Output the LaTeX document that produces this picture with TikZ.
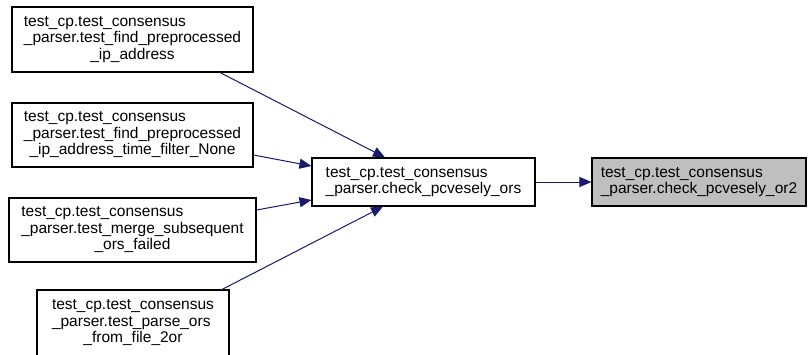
\documentclass[tikz,border=0pt]{standalone}
\usepackage{fontspec}
\setmainfont{Liberation Sans}
\usetikzlibrary{arrows.meta,calc}
\definecolor{edgeblue}{HTML}{191970}
\definecolor{hlgray}{HTML}{BFBFBF}
\newcommand{\lbl}[3]{\begin{tabular}{@{}l@{}}#1\\#2\\\multicolumn{1}{@{}c@{}}{#3}\end{tabular}}
\newcommand{\lbltwo}[2]{\begin{tabular}{@{}l@{}}#1\\#2\end{tabular}}
\begin{document}
\begin{tikzpicture}[x=1pt,y=1pt,
  box/.style={draw=black,line width=1.1pt,fill=white,inner sep=0pt,rectangle,
    font=\fontsize{15.5}{16.5}\selectfont},
  edge/.style={draw=edgeblue,line width=1pt,-{Triangle[length=12pt,width=10pt]}}]
\useasboundingbox (0,0) rectangle (808,354);
\node[box,minimum width=241pt,minimum height=65pt] (b1) at (132.5,314.5)
  {\lbl{test\_cp.test\_consensus}{\_parser.test\_find\_preprocessed}{\_ip\_address}};
\node[box,minimum width=241pt,minimum height=64pt] (b2) at (132.5,219)
  {\lbl{test\_cp.test\_consensus}{\_parser.test\_find\_preprocessed}{\_ip\_address\_time\_filter\_None}};
\node[box,minimum width=247pt,minimum height=64pt] (b3) at (132.5,124)
  {\lbl{test\_cp.test\_consensus}{\_parser.test\_merge\_subsequent}{\_ors\_failed}};
\node[box,minimum width=192pt,minimum height=66pt] (b4) at (133,31)
  {\lbl{test\_cp.test\_consensus}{\_parser.test\_parse\_ors}{\_from\_file\_2or}};
\node[box,minimum width=223pt,minimum height=48pt] (mid) at (423.5,172)
  {\lbltwo{test\_cp.test\_consensus}{\_parser.check\_pcvesely\_ors}};
\node[box,fill=hlgray,minimum width=214pt,minimum height=48pt] (right) at (699,172)
  {\lbltwo{test\_cp.test\_consensus}{\_parser.check\_pcvesely\_or2}};
\draw[edge] ($(b1.south)+(87.5,0)$) -- ($(mid.north)+(-38.5,0)$);
\draw[edge] ($(b2.east)+(0,-20)$) -- ($(mid.west)+(0,16)$);
\draw[edge] ($(b3.east)+(0,20)$) -- ($(mid.west)+(0,-18)$);
\draw[edge] ($(b4.north)+(89,0)$) -- ($(mid.south)+(-40.5,0)$);
\draw[edge] (mid.east) -- (right.west);
\end{tikzpicture}
\end{document}
